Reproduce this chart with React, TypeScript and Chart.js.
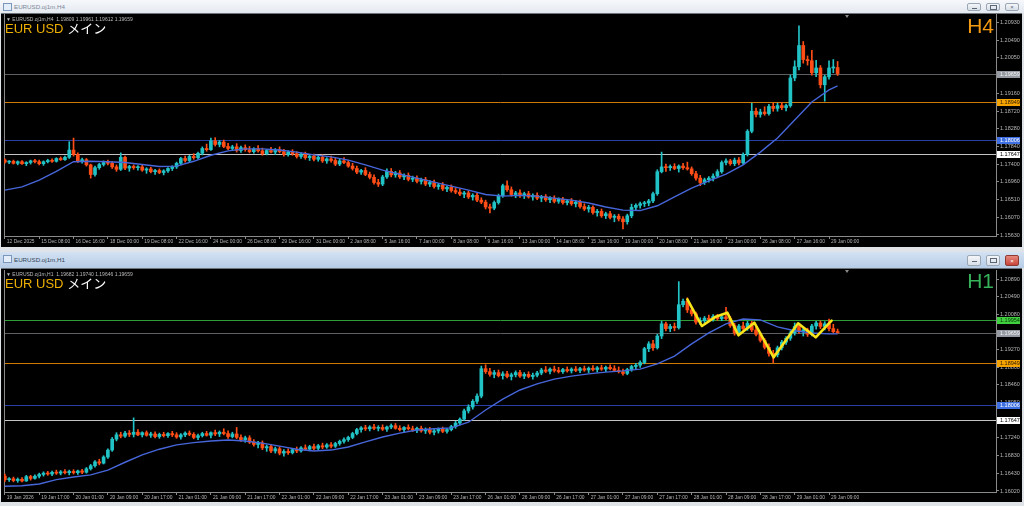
import React, { useEffect, useRef } from "react";
import { Chart, registerables } from "chart.js";

Chart.register(...registerables);

/* ======================= DATA ======================= */

// H4 chart (upper window)
const h4XLabels = [
  "12 Dec 2025", "15 Dec 08:00", "16 Dec 16:00", "18 Dec 00:00", "19 Dec 08:00",
  "22 Dec 16:00", "24 Dec 00:00", "26 Dec 08:00", "29 Dec 16:00", "31 Dec 00:00",
  "2 Jan 08:00", "5 Jan 16:00", "7 Jan 00:00", "8 Jan 08:00", "9 Jan 16:00",
  "13 Jan 00:00", "14 Jan 08:00", "15 Jan 16:00", "19 Jan 00:00", "20 Jan 08:00",
  "21 Jan 16:00", "23 Jan 00:00", "26 Jan 08:00", "27 Jan 16:00", "29 Jan 00:00",
];
const h4YTicks = [1.2093, 1.2049, 1.2005, 1.1961, 1.1916, 1.1872, 1.1828, 1.1784, 1.174, 1.1696, 1.1651, 1.1607, 1.1563];

const h4Open = [
  1.1750, 1.1745, 1.1747, 1.1742, 1.1746, 1.1741, 1.1744, 1.1748,
  1.1746, 1.1741, 1.1746, 1.1749, 1.1747, 1.1754, 1.1751, 1.1757,
  1.1775, 1.1764, 1.1748, 1.1751, 1.1738, 1.1714, 1.1731, 1.1739,
  1.1744, 1.1742, 1.1733, 1.1727, 1.1757, 1.1730, 1.1734, 1.1731,
  1.1733, 1.1725, 1.1728, 1.1721, 1.1724, 1.1719, 1.1723, 1.1729,
  1.1733, 1.1742, 1.1754, 1.1749, 1.1759, 1.1756, 1.1767, 1.1779,
  1.1776, 1.1798, 1.1789, 1.1795, 1.1784, 1.1779, 1.1783, 1.1774,
  1.1781, 1.1776, 1.1771, 1.1778, 1.1773, 1.1766, 1.1774, 1.1770,
  1.1776, 1.1771, 1.1764, 1.1770, 1.1766, 1.1759, 1.1765, 1.1756,
  1.1760, 1.1752, 1.1757, 1.1748, 1.1753, 1.1749, 1.1740, 1.1748,
  1.1744, 1.1735, 1.1729, 1.1720, 1.1724, 1.1714, 1.1707, 1.1694,
  1.1690, 1.1708, 1.1722, 1.1713, 1.1718, 1.1708, 1.1712, 1.1702,
  1.1705, 1.1697, 1.1701, 1.1690, 1.1694, 1.1684, 1.1688, 1.1678,
  1.1682, 1.1674, 1.1670, 1.1665, 1.1668, 1.1658, 1.1662, 1.1650,
  1.1645, 1.1633, 1.1630, 1.1644, 1.1661, 1.1686, 1.1676, 1.1664,
  1.1668, 1.1661, 1.1666, 1.1658, 1.1662, 1.1655, 1.1659, 1.1651,
  1.1655, 1.1647, 1.1652, 1.1644, 1.1648, 1.1641, 1.1645, 1.1634,
  1.1628, 1.1632, 1.1619, 1.1622, 1.1611, 1.1616, 1.1607, 1.1610,
  1.1603, 1.1596, 1.1611, 1.1632, 1.1637, 1.1641, 1.1643, 1.1648,
  1.1666, 1.1721, 1.1733, 1.1731, 1.1734, 1.1729, 1.1735, 1.1731,
  1.1728, 1.1716, 1.1705, 1.1694, 1.1701, 1.1705, 1.1710, 1.1721,
  1.1744, 1.1748, 1.1741, 1.1750, 1.1743, 1.1764, 1.1822, 1.1872,
  1.1864, 1.1870, 1.1866, 1.1884, 1.1879, 1.1886, 1.1881, 1.1886,
  1.1955, 1.1983, 1.2036, 1.2001, 1.1998, 1.1968, 1.1980, 1.1938,
  1.1958, 1.1980, 1.19809,
];
const h4High = [
  1.1753, 1.1749, 1.1750, 1.1748, 1.1749, 1.1746, 1.1750, 1.1752,
  1.1750, 1.1748, 1.1752, 1.1753, 1.1756, 1.1758, 1.1760, 1.1796,
  1.1805, 1.1768, 1.1755, 1.1754, 1.1740, 1.1735, 1.1742, 1.1748,
  1.1750, 1.1746, 1.1738, 1.1768, 1.1760, 1.1737, 1.1738, 1.1736,
  1.1737, 1.1731, 1.1732, 1.1727, 1.1728, 1.1726, 1.1731, 1.1736,
  1.1745, 1.1757, 1.1760, 1.1762, 1.1766, 1.1770, 1.1783, 1.1790,
  1.1805, 1.1806, 1.1799, 1.1800, 1.1792, 1.1787, 1.1791, 1.1785,
  1.1788, 1.1784, 1.1781, 1.1786, 1.1780, 1.1777, 1.1782, 1.1779,
  1.1783, 1.1777, 1.1773, 1.1776, 1.1771, 1.1768, 1.1770, 1.1763,
  1.1765, 1.1761, 1.1763, 1.1756, 1.1760, 1.1755, 1.1752, 1.1756,
  1.1749, 1.1742, 1.1735, 1.1727, 1.1731, 1.1720, 1.1713, 1.1702,
  1.1712, 1.1728, 1.1729, 1.1722, 1.1724, 1.1716, 1.1718, 1.1710,
  1.1711, 1.1705, 1.1707, 1.1699, 1.1700, 1.1692, 1.1694, 1.1686,
  1.1688, 1.1681, 1.1678, 1.1672, 1.1673, 1.1666, 1.1667, 1.1656,
  1.1650, 1.1640, 1.1648, 1.1665, 1.1690, 1.1698, 1.1683, 1.1672,
  1.1676, 1.1670, 1.1672, 1.1666, 1.1668, 1.1662, 1.1664, 1.1659,
  1.1661, 1.1656, 1.1657, 1.1652, 1.1654, 1.1649, 1.1650, 1.1641,
  1.1637, 1.1636, 1.1627, 1.1628, 1.1620, 1.1622, 1.1614, 1.1615,
  1.1609, 1.1615, 1.1640, 1.1641, 1.1645, 1.1647, 1.1652, 1.1670,
  1.1726, 1.1770, 1.1740, 1.1738, 1.1741, 1.1738, 1.1742, 1.1745,
  1.1733, 1.1722, 1.1712, 1.1705, 1.1709, 1.1716, 1.1726, 1.1748,
  1.1753, 1.1752, 1.1755, 1.1756, 1.1768, 1.1826, 1.1892, 1.1880,
  1.1877, 1.1883, 1.1889, 1.1892, 1.1892, 1.1893, 1.1890, 1.1962,
  1.1998, 1.2085, 1.2046, 1.2010, 1.2024, 1.1999, 1.1986, 1.1962,
  1.1998, 1.2001, 1.19961,
];
const h4Low = [
  1.1742, 1.1741, 1.1740, 1.1738, 1.1739, 1.1736, 1.1740, 1.1743,
  1.1738, 1.1737, 1.1743, 1.1744, 1.1745, 1.1749, 1.1749, 1.1754,
  1.1760, 1.1744, 1.1742, 1.1735, 1.1705, 1.1710, 1.1727, 1.1735,
  1.1738, 1.1729, 1.1722, 1.1724, 1.1726, 1.1722, 1.1727, 1.1725,
  1.1722, 1.1717, 1.1718, 1.1714, 1.1716, 1.1713, 1.1719, 1.1724,
  1.1729, 1.1738, 1.1745, 1.1746, 1.1752, 1.1753, 1.1763, 1.1772,
  1.1774, 1.1785, 1.1783, 1.1781, 1.1776, 1.1774, 1.1770, 1.1769,
  1.1772, 1.1768, 1.1767, 1.1770, 1.1762, 1.1763, 1.1768, 1.1764,
  1.1768, 1.1760, 1.1760, 1.1762, 1.1755, 1.1754, 1.1752, 1.1749,
  1.1748, 1.1747, 1.1744, 1.1742, 1.1745, 1.1736, 1.1736, 1.1741,
  1.1732, 1.1725, 1.1716, 1.1714, 1.1711, 1.1703, 1.1690, 1.1684,
  1.1686, 1.1704, 1.1708, 1.1707, 1.1704, 1.1701, 1.1698, 1.1696,
  1.1693, 1.1690, 1.1686, 1.1684, 1.1680, 1.1677, 1.1674, 1.1671,
  1.1670, 1.1666, 1.1661, 1.1656, 1.1654, 1.1650, 1.1646, 1.1641,
  1.1628, 1.1618, 1.1626, 1.1640, 1.1657, 1.1672, 1.1660, 1.1656,
  1.1657, 1.1654, 1.1655, 1.1650, 1.1651, 1.1646, 1.1647, 1.1644,
  1.1643, 1.1642, 1.1640, 1.1638, 1.1637, 1.1633, 1.1630, 1.1624,
  1.1620, 1.1615, 1.1610, 1.1607, 1.1604, 1.1603, 1.1596, 1.1598,
  1.1578, 1.1590, 1.1606, 1.1624, 1.1630, 1.1634, 1.1636, 1.1644,
  1.1662, 1.1718, 1.1722, 1.1724, 1.1726, 1.1720, 1.1727, 1.1725,
  1.1712, 1.1700, 1.1686, 1.1689, 1.1695, 1.1698, 1.1706, 1.1717,
  1.1738, 1.1737, 1.1736, 1.1738, 1.1739, 1.1760, 1.1818, 1.1858,
  1.1857, 1.1862, 1.1862, 1.1872, 1.1872, 1.1876, 1.1873, 1.1882,
  1.1948, 1.1975, 1.1992, 1.1987, 1.1962, 1.1958, 1.1930, 1.1897,
  1.1952, 1.1968, 1.19612,
];
const h4Close = [
  1.1745, 1.1747, 1.1742, 1.1746, 1.1741, 1.1744, 1.1748, 1.1746,
  1.1741, 1.1746, 1.1749, 1.1747, 1.1754, 1.1751, 1.1757, 1.1775,
  1.1764, 1.1748, 1.1751, 1.1738, 1.1714, 1.1731, 1.1739, 1.1744,
  1.1742, 1.1733, 1.1727, 1.1757, 1.1730, 1.1734, 1.1731, 1.1733,
  1.1725, 1.1728, 1.1721, 1.1724, 1.1719, 1.1723, 1.1729, 1.1733,
  1.1742, 1.1754, 1.1749, 1.1759, 1.1756, 1.1767, 1.1779, 1.1776,
  1.1798, 1.1789, 1.1795, 1.1784, 1.1779, 1.1783, 1.1774, 1.1781,
  1.1776, 1.1771, 1.1778, 1.1773, 1.1766, 1.1774, 1.1770, 1.1776,
  1.1771, 1.1764, 1.1770, 1.1766, 1.1759, 1.1765, 1.1756, 1.1760,
  1.1752, 1.1757, 1.1748, 1.1753, 1.1749, 1.1740, 1.1748, 1.1744,
  1.1735, 1.1729, 1.1720, 1.1724, 1.1714, 1.1707, 1.1694, 1.1690,
  1.1708, 1.1722, 1.1713, 1.1718, 1.1708, 1.1712, 1.1702, 1.1705,
  1.1697, 1.1701, 1.1690, 1.1694, 1.1684, 1.1688, 1.1678, 1.1682,
  1.1674, 1.1670, 1.1665, 1.1668, 1.1658, 1.1662, 1.1650, 1.1645,
  1.1633, 1.1630, 1.1644, 1.1661, 1.1686, 1.1676, 1.1664, 1.1668,
  1.1661, 1.1666, 1.1658, 1.1662, 1.1655, 1.1659, 1.1651, 1.1655,
  1.1647, 1.1652, 1.1644, 1.1648, 1.1641, 1.1645, 1.1634, 1.1628,
  1.1632, 1.1619, 1.1622, 1.1611, 1.1616, 1.1607, 1.1610, 1.1603,
  1.1596, 1.1611, 1.1632, 1.1637, 1.1641, 1.1643, 1.1648, 1.1666,
  1.1721, 1.1733, 1.1731, 1.1734, 1.1729, 1.1735, 1.1731, 1.1728,
  1.1716, 1.1705, 1.1694, 1.1701, 1.1705, 1.1710, 1.1721, 1.1744,
  1.1748, 1.1741, 1.1750, 1.1743, 1.1764, 1.1822, 1.1872, 1.1864,
  1.1870, 1.1866, 1.1884, 1.1879, 1.1886, 1.1881, 1.1886, 1.1955,
  1.1983, 1.2036, 1.2001, 1.1998, 1.1968, 1.1980, 1.1938, 1.1958,
  1.1980, 1.1981, 1.19659,
];
const h4MaBars = [
  0, 4, 8, 12, 16, 20, 24, 28, 32, 36, 40, 44, 48, 52, 56, 60, 64, 68, 72, 76, 80, 84, 88, 92, 96,
  100, 104, 108, 112, 116, 120, 124, 128, 132, 136, 140, 144, 148, 152, 156, 160, 164, 168, 172,
  176, 180, 184, 188, 192, 194,
];
const h4MaValues = [
  1.1675, 1.1683, 1.1700, 1.1722, 1.1746, 1.1747, 1.1746, 1.1744, 1.1739, 1.1734, 1.1735, 1.1747,
  1.1762, 1.1773, 1.1778, 1.1778, 1.1775, 1.1770, 1.1763, 1.1758, 1.1750, 1.1738, 1.1725, 1.1715,
  1.1705, 1.1695, 1.1685, 1.1675, 1.1664, 1.1660, 1.1662, 1.1660, 1.1655, 1.1650, 1.1643, 1.1633,
  1.1625, 1.1624, 1.1636, 1.1658, 1.1680, 1.1698, 1.1715, 1.1738, 1.1770, 1.1805, 1.1850, 1.1895,
  1.1925, 1.1935,
];
const h4Levels = [1.19659, 1.18949, 1.18006, 1.17647];

// H1 chart (lower window)
const h1XLabels = [
  "19 Jan 2026", "19 Jan 17:00", "20 Jan 01:00", "20 Jan 09:00", "20 Jan 17:00",
  "21 Jan 01:00", "21 Jan 09:00", "21 Jan 17:00", "22 Jan 01:00", "22 Jan 09:00",
  "22 Jan 17:00", "23 Jan 01:00", "23 Jan 09:00", "23 Jan 17:00", "26 Jan 01:00",
  "26 Jan 09:00", "26 Jan 17:00", "27 Jan 01:00", "27 Jan 09:00", "27 Jan 17:00",
  "28 Jan 01:00", "28 Jan 09:00", "28 Jan 17:00", "29 Jan 01:00", "29 Jan 09:00",
];
const h1YTicks = [1.2089, 1.2049, 1.2008, 1.1967, 1.1927, 1.1886, 1.1846, 1.1805, 1.1765, 1.1724, 1.1683, 1.1643, 1.1602];

const h1Open = [
  1.1636, 1.1628, 1.1630, 1.1626, 1.1629, 1.1625, 1.1635, 1.1631,
  1.1636, 1.1640, 1.1643, 1.1641, 1.1645, 1.1643, 1.1646, 1.1644,
  1.1647, 1.1644, 1.1648, 1.1645, 1.1653, 1.1660, 1.1669, 1.1666,
  1.1680, 1.1696, 1.1721, 1.1731, 1.1728, 1.1735, 1.1732, 1.1737,
  1.1731, 1.1736, 1.1730, 1.1733, 1.1727, 1.1732, 1.1729, 1.1734,
  1.1731, 1.1726, 1.1731, 1.1735, 1.1732, 1.1725, 1.1729, 1.1734,
  1.1730, 1.1736, 1.1733, 1.1737, 1.1734, 1.1727, 1.1733, 1.1725,
  1.1720, 1.1724, 1.1714, 1.1709, 1.1712, 1.1701, 1.1704, 1.1694,
  1.1699, 1.1689, 1.1693, 1.1690, 1.1697, 1.1694, 1.1701, 1.1698,
  1.1704, 1.1700, 1.1706, 1.1703, 1.1708, 1.1705, 1.1711, 1.1716,
  1.1720, 1.1725, 1.1734, 1.1743, 1.1747, 1.1745, 1.1749, 1.1746,
  1.1748, 1.1744, 1.1749, 1.1752, 1.1746, 1.1743, 1.1748, 1.1745,
  1.1742, 1.1746, 1.1740, 1.1743, 1.1737, 1.1740, 1.1744, 1.1739,
  1.1743, 1.1750, 1.1758, 1.1767, 1.1786, 1.1795, 1.1808, 1.1820,
  1.1883, 1.1876, 1.1870, 1.1874, 1.1867, 1.1871, 1.1865, 1.1869,
  1.1874, 1.1866, 1.1870, 1.1865, 1.1868, 1.1873, 1.1880, 1.1877,
  1.1882, 1.1879, 1.1876, 1.1881, 1.1878, 1.1882, 1.1879, 1.1883,
  1.1880, 1.1884, 1.1881, 1.1885, 1.1882, 1.1886, 1.1883, 1.1879,
  1.1876, 1.1872, 1.1881, 1.1888, 1.1891, 1.1897, 1.1929, 1.1940,
  1.1931, 1.1958, 1.1986, 1.1975, 1.1980, 1.1977, 1.2030, 1.2038,
  1.2018, 1.2009, 1.1990, 1.1993, 1.1999, 1.1996, 1.2003, 1.1998,
  1.2002, 1.1998, 1.1982, 1.1965, 1.1981, 1.1975, 1.1987, 1.1972,
  1.1962, 1.1948, 1.1932, 1.1918, 1.1915, 1.1931, 1.1944, 1.1953,
  1.1965, 1.1980, 1.1968, 1.1972, 1.1962, 1.1981, 1.1988, 1.1980,
  1.1986, 1.1975, 1.19682,
];
const h1High = [
  1.1641, 1.1633, 1.1634, 1.1632, 1.1633, 1.1638, 1.1638, 1.1639,
  1.1643, 1.1646, 1.1647, 1.1648, 1.1650, 1.1649, 1.1651, 1.1650,
  1.1651, 1.1650, 1.1652, 1.1656, 1.1663, 1.1672, 1.1675, 1.1683,
  1.1699, 1.1725, 1.1736, 1.1737, 1.1739, 1.1741, 1.1770, 1.1743,
  1.1738, 1.1740, 1.1737, 1.1738, 1.1735, 1.1737, 1.1736, 1.1739,
  1.1736, 1.1734, 1.1738, 1.1740, 1.1736, 1.1733, 1.1737, 1.1739,
  1.1738, 1.1742, 1.1740, 1.1745, 1.1740, 1.1737, 1.1748, 1.1731,
  1.1728, 1.1729, 1.1720, 1.1716, 1.1717, 1.1708, 1.1709, 1.1703,
  1.1704, 1.1697, 1.1699, 1.1700, 1.1703, 1.1704, 1.1708, 1.1707,
  1.1710, 1.1709, 1.1712, 1.1711, 1.1713, 1.1714, 1.1719, 1.1724,
  1.1728, 1.1737, 1.1746, 1.1750, 1.1753, 1.1752, 1.1755, 1.1752,
  1.1754, 1.1751, 1.1756, 1.1757, 1.1752, 1.1750, 1.1754, 1.1751,
  1.1749, 1.1751, 1.1747, 1.1748, 1.1744, 1.1747, 1.1749, 1.1746,
  1.1753, 1.1762, 1.1770, 1.1790, 1.1800, 1.1812, 1.1825, 1.1889,
  1.1892, 1.1884, 1.1879, 1.1880, 1.1876, 1.1877, 1.1873, 1.1878,
  1.1879, 1.1874, 1.1876, 1.1873, 1.1877, 1.1884, 1.1888, 1.1885,
  1.1889, 1.1886, 1.1884, 1.1887, 1.1885, 1.1888, 1.1886, 1.1889,
  1.1887, 1.1890, 1.1888, 1.1891, 1.1889, 1.1892, 1.1890, 1.1887,
  1.1882, 1.1884, 1.1891, 1.1895, 1.1901, 1.1932, 1.1945, 1.1948,
  1.1962, 1.1992, 1.1990, 1.1985, 1.1988, 1.2083, 1.2043, 1.2046,
  1.2024, 1.2013, 1.2000, 1.2003, 1.2006, 1.2007, 1.2008, 1.2006,
  1.2024, 1.2003, 1.1987, 1.1985, 1.1990, 1.1992, 1.1992, 1.1978,
  1.1966, 1.1952, 1.1940, 1.1925, 1.1935, 1.1948, 1.1957, 1.1970,
  1.1988, 1.1986, 1.1977, 1.1976, 1.1985, 1.1992, 1.1993, 1.1991,
  1.1997, 1.1985, 1.19740,
];
const h1Low = [
  1.1624, 1.1624, 1.1623, 1.1622, 1.1623, 1.1624, 1.1627, 1.1629,
  1.1632, 1.1636, 1.1638, 1.1637, 1.1640, 1.1639, 1.1641, 1.1639,
  1.1641, 1.1640, 1.1642, 1.1643, 1.1650, 1.1657, 1.1662, 1.1664,
  1.1677, 1.1693, 1.1717, 1.1724, 1.1725, 1.1727, 1.1726, 1.1729,
  1.1726, 1.1728, 1.1725, 1.1724, 1.1723, 1.1726, 1.1725, 1.1727,
  1.1723, 1.1721, 1.1727, 1.1729, 1.1722, 1.1720, 1.1726, 1.1728,
  1.1724, 1.1729, 1.1727, 1.1731, 1.1723, 1.1724, 1.1722, 1.1716,
  1.1714, 1.1711, 1.1705, 1.1701, 1.1697, 1.1693, 1.1690, 1.1689,
  1.1685, 1.1682, 1.1686, 1.1687, 1.1690, 1.1691, 1.1695, 1.1694,
  1.1696, 1.1697, 1.1699, 1.1700, 1.1701, 1.1702, 1.1707, 1.1712,
  1.1716, 1.1722, 1.1731, 1.1737, 1.1741, 1.1740, 1.1743, 1.1740,
  1.1741, 1.1739, 1.1745, 1.1744, 1.1740, 1.1738, 1.1742, 1.1739,
  1.1736, 1.1737, 1.1734, 1.1733, 1.1731, 1.1735, 1.1736, 1.1735,
  1.1740, 1.1746, 1.1754, 1.1764, 1.1781, 1.1790, 1.1803, 1.1816,
  1.1872, 1.1866, 1.1862, 1.1864, 1.1859, 1.1862, 1.1857, 1.1864,
  1.1863, 1.1860, 1.1862, 1.1859, 1.1864, 1.1869, 1.1874, 1.1871,
  1.1875, 1.1873, 1.1872, 1.1875, 1.1873, 1.1876, 1.1874, 1.1877,
  1.1874, 1.1878, 1.1875, 1.1879, 1.1876, 1.1880, 1.1877, 1.1873,
  1.1868, 1.1869, 1.1877, 1.1882, 1.1886, 1.1894, 1.1922, 1.1925,
  1.1928, 1.1952, 1.1970, 1.1968, 1.1970, 1.1974, 1.2025, 1.2012,
  1.2004, 1.1985, 1.1984, 1.1988, 1.1991, 1.1992, 1.1994, 1.1993,
  1.1995, 1.1978, 1.1960, 1.1961, 1.1970, 1.1971, 1.1968, 1.1958,
  1.1944, 1.1928, 1.1912, 1.1897, 1.1910, 1.1926, 1.1939, 1.1948,
  1.1960, 1.1964, 1.1958, 1.1957, 1.1958, 1.1974, 1.1975, 1.1972,
  1.1970, 1.1965, 1.19646,
];
const h1Close = [
  1.1628, 1.1630, 1.1626, 1.1629, 1.1625, 1.1635, 1.1631, 1.1636,
  1.1640, 1.1643, 1.1641, 1.1645, 1.1643, 1.1646, 1.1644, 1.1647,
  1.1644, 1.1648, 1.1645, 1.1653, 1.1660, 1.1669, 1.1666, 1.1680,
  1.1696, 1.1721, 1.1731, 1.1728, 1.1735, 1.1732, 1.1737, 1.1731,
  1.1736, 1.1730, 1.1733, 1.1727, 1.1732, 1.1729, 1.1734, 1.1731,
  1.1726, 1.1731, 1.1735, 1.1732, 1.1725, 1.1729, 1.1734, 1.1730,
  1.1736, 1.1733, 1.1737, 1.1734, 1.1727, 1.1733, 1.1725, 1.1720,
  1.1724, 1.1714, 1.1709, 1.1712, 1.1701, 1.1704, 1.1694, 1.1699,
  1.1689, 1.1693, 1.1690, 1.1697, 1.1694, 1.1701, 1.1698, 1.1704,
  1.1700, 1.1706, 1.1703, 1.1708, 1.1705, 1.1711, 1.1716, 1.1720,
  1.1725, 1.1734, 1.1743, 1.1747, 1.1745, 1.1749, 1.1746, 1.1748,
  1.1744, 1.1749, 1.1752, 1.1746, 1.1743, 1.1748, 1.1745, 1.1742,
  1.1746, 1.1740, 1.1743, 1.1737, 1.1740, 1.1744, 1.1739, 1.1743,
  1.1750, 1.1758, 1.1767, 1.1786, 1.1795, 1.1808, 1.1820, 1.1883,
  1.1876, 1.1870, 1.1874, 1.1867, 1.1871, 1.1865, 1.1869, 1.1874,
  1.1866, 1.1870, 1.1865, 1.1868, 1.1873, 1.1880, 1.1877, 1.1882,
  1.1879, 1.1876, 1.1881, 1.1878, 1.1882, 1.1879, 1.1883, 1.1880,
  1.1884, 1.1881, 1.1885, 1.1882, 1.1886, 1.1883, 1.1879, 1.1876,
  1.1872, 1.1881, 1.1888, 1.1891, 1.1897, 1.1929, 1.1940, 1.1931,
  1.1958, 1.1986, 1.1975, 1.1980, 1.1977, 1.2030, 1.2038, 1.2018,
  1.2009, 1.1990, 1.1993, 1.1999, 1.1996, 1.2003, 1.1998, 1.2002,
  1.1998, 1.1982, 1.1965, 1.1981, 1.1975, 1.1987, 1.1972, 1.1962,
  1.1948, 1.1932, 1.1918, 1.1915, 1.1931, 1.1944, 1.1953, 1.1965,
  1.1980, 1.1968, 1.1972, 1.1962, 1.1981, 1.1988, 1.1980, 1.1986,
  1.1975, 1.1968, 1.19659,
];
const h1MaBars = h4MaBars;
const h1MaValues = [
  1.1613, 1.1614, 1.1618, 1.1628, 1.1634, 1.1639, 1.1650, 1.1668, 1.1685, 1.1698, 1.1708, 1.1713,
  1.1717, 1.1719, 1.1717, 1.1712, 1.1705, 1.1698, 1.1694, 1.1696, 1.1703, 1.1715, 1.1726, 1.1735,
  1.1742, 1.1745, 1.1747, 1.1760, 1.1788, 1.1813, 1.1834, 1.1848, 1.1859, 1.1866, 1.1871, 1.1875,
  1.1878, 1.1882, 1.1894, 1.1912, 1.1940, 1.1965, 1.1986, 1.1997, 1.1995, 1.1979, 1.1970, 1.1965,
  1.1963, 1.1963,
];
const h1Levels = [1.19954, 1.19659, 1.18949, 1.18006, 1.17647];
const h1ZigzagBars = [159.0, 162.4, 165.6, 168.3, 170.9, 174.6, 179.1, 184.8, 188.9, 192.6];
const h1ZigzagPrices = [1.20424, 1.1981, 1.20024, 1.20116, 1.19597, 1.19886, 1.19091, 1.19872, 1.19551, 1.19932];

/* ======================= STYLE ======================= */

const BULL = "#22c3c6";
const BEAR = "#ff4d17";
const FRAME = "#8a8a8a";
const TICK_COLOR = "#b6b6b6";
const AXIS_FONT = "'Liberation Sans', Arial, sans-serif";

type LevelStyle = { line: string; box: string; text: string };
const GRAY: LevelStyle = { line: "#5d5f63", box: "#959aa3", text: "#f4f4f4" };
const ORANGE: LevelStyle = { line: "#cf7a06", box: "#f5a300", text: "#2a1800" };
const BLUE: LevelStyle = { line: "#2840a6", box: "#3e6fe2", text: "#ffffff" };
const WHITE: LevelStyle = { line: "#c4c4c4", box: "#ffffff", text: "#000000" };
const GREEN: LevelStyle = { line: "#2f9c37", box: "#3fcf3f", text: "#063306" };

const CANVAS_W = 1019;
const AXIS_W = 25;
const X_MIN = -0.2;
const X_MAX = 230.9;
const LABEL_STEP = 8;

interface PaneProps {
  top: number;
  height: number;
  padTop: number;
  axisH: number;
  yMin: number;
  yMax: number;
  yTicks: number[];
  xLabels: string[];
  open: number[];
  high: number[];
  low: number[];
  close: number[];
  maBars: number[];
  maValues: number[];
  levels: number[];
  levelStyles: LevelStyle[];
  zzBars?: number[];
  zzPrices?: number[];
}

function Pane(p: PaneProps) {
  const ref = useRef<HTMLCanvasElement | null>(null);

  useEffect(() => {
    if (!ref.current) return;
    const n = p.close.length;
    const wicks: any[] = [];
    const bodies: any[] = [];
    const colors: string[] = [];
    for (let i = 0; i < n; i++) {
      wicks.push({ x: i, y: [p.low[i], p.high[i]] });
      bodies.push({ x: i, y: [p.open[i], p.close[i]] });
      colors.push(p.close[i] >= p.open[i] ? BULL : BEAR);
    }
    const datasets: any[] = [];
    if (p.zzBars && p.zzPrices) {
      const zz = p.zzBars.map((b, i) => ({ x: b, y: p.zzPrices![i] }));
      datasets.push({
        type: "line", data: zz, borderColor: "#f6e31a", borderWidth: 2.6, pointRadius: 0,
        tension: 0, order: 0, borderJoinStyle: "round", borderCapStyle: "round",
      });
    }
    datasets.push({
      type: "line", data: p.maBars.map((b, i) => ({ x: b, y: p.maValues[i] })),
      borderColor: "#4666da", borderWidth: 1.4, pointRadius: 0, tension: 0, order: 1,
    });
    datasets.push({
      type: "bar", data: bodies, backgroundColor: colors, barThickness: 3, minBarLength: 1,
      grouped: false, order: 2, borderWidth: 0,
    });
    datasets.push({
      type: "bar", data: wicks, backgroundColor: colors, barThickness: 1,
      grouped: false, order: 3, borderWidth: 0,
    });

    const levelPlugin = {
      id: "levels",
      beforeDatasetsDraw(chart: any) {
        const { ctx, chartArea, scales } = chart;
        ctx.save();
        ctx.lineWidth = 1;
        ctx.strokeStyle = FRAME;
        ctx.beginPath();
        ctx.moveTo(chartArea.left + 0.5, chartArea.top);
        ctx.lineTo(chartArea.left + 0.5, chartArea.bottom);
        ctx.stroke();
        p.levels.forEach((v, i) => {
          const y = Math.round(scales.y.getPixelForValue(v)) + 0.5;
          ctx.strokeStyle = p.levelStyles[i].line;
          ctx.beginPath();
          ctx.moveTo(chartArea.left + 1, y);
          ctx.lineTo(chartArea.right, y);
          ctx.stroke();
        });
        ctx.restore();
      },
      afterDraw(chart: any) {
        const { ctx, chartArea, scales, width } = chart;
        ctx.save();
        ctx.font = `5.5px ${AXIS_FONT}`;
        ctx.textBaseline = "middle";
        ctx.textAlign = "left";
        p.levels.forEach((v, i) => {
          const y = Math.round(scales.y.getPixelForValue(v));
          const s = p.levelStyles[i];
          ctx.fillStyle = s.box;
          ctx.fillRect(chartArea.right + 1, y - 3, width - chartArea.right - 2, 7);
          ctx.fillStyle = s.text;
          ctx.fillText(v.toFixed(5), chartArea.right + 4, y + 0.5);
        });
        ctx.restore();
      },
    };

    const chart = new Chart(ref.current, {
      type: "bar",
      data: { datasets },
      options: {
        animation: false,
        responsive: false,
        maintainAspectRatio: false,
        events: [],
        layout: { padding: { left: 2, top: p.padTop, right: 0, bottom: 0 } },
        plugins: { legend: { display: false }, tooltip: { enabled: false } },
        scales: {
          x: {
            type: "linear",
            min: X_MIN,
            max: X_MAX,
            bounds: "data",
            offset: false,
            afterBuildTicks: (scale: any) => {
              scale.ticks = p.xLabels.map((_, i) => ({ value: i * LABEL_STEP }));
            },
            afterFit: (scale: any) => {
              scale.height = p.axisH;
              scale.paddingLeft = 0;
              scale.paddingRight = 0;
            },
            ticks: {
              autoSkip: false,
              maxRotation: 0,
              minRotation: 0,
              align: "start",
              labelOffset: 2,
              padding: 0,
              color: TICK_COLOR,
              font: { size: 4.9, family: AXIS_FONT },
              callback: (v: any) => p.xLabels[Math.round(Number(v) / LABEL_STEP)] ?? "",
            },
            grid: { drawOnChartArea: false, drawTicks: true, tickLength: 3, color: FRAME, offset: false },
            border: { display: true, color: FRAME },
          },
          y: {
            type: "linear",
            position: "right",
            min: p.yMin,
            max: p.yMax,
            bounds: "data",
            afterBuildTicks: (scale: any) => {
              scale.ticks = p.yTicks.map((v) => ({ value: v }));
            },
            afterFit: (scale: any) => {
              scale.width = AXIS_W;
              scale.paddingTop = 0;
              scale.paddingBottom = 0;
            },
            ticks: {
              autoSkip: false,
              padding: 1,
              color: TICK_COLOR,
              font: { size: 5.5, family: AXIS_FONT },
              callback: (v: any) => Number(v).toFixed(5),
            },
            grid: { drawOnChartArea: false, drawTicks: true, tickLength: 3, color: FRAME },
            border: { display: true, color: FRAME },
          },
        },
      } as any,
      plugins: [levelPlugin],
    } as any);
    return () => chart.destroy();
  }, []);

  return (
    <canvas
      ref={ref}
      width={CANVAS_W}
      height={p.height}
      style={{ position: "absolute", left: 2, top: p.top, width: CANVAS_W, height: p.height, display: "block" }}
    />
  );
}

function Btn({ left, top, h, kind, red }: { left: number; top: number; h: number; kind: string; red?: boolean }) {
  return (
    <div
      style={{
        position: "absolute", left, top, width: 14, height: h, boxSizing: "border-box",
        border: red ? "1px solid #8e3a32" : "1px solid #9aa6b4", borderRadius: 2,
        background: red ? "linear-gradient(#e6877c,#c7453a)" : "linear-gradient(#f4f6f9,#d9e0e8)",
        display: "flex", alignItems: "center", justifyContent: "center",
        fontSize: 6, lineHeight: "6px", color: red ? "#ffffff" : "#5b6675", fontFamily: AXIS_FONT,
      }}
    >
      {kind === "min" && <div style={{ width: 5, height: 1, background: red ? "#fff" : "#5b6675", marginTop: 2 }} />}
      {kind === "max" && <div style={{ width: 5, height: 3, border: "1px solid #5b6675" }} />}
      {kind === "close" && <span>×</span>}
    </div>
  );
}

function TitleBar({ top, height, title, active }: { top: number; height: number; title: string; active: boolean }) {
  const bh = height - 5;
  const by = Math.round((height - bh) / 2);
  return (
    <div
      style={{
        position: "absolute", left: 0, top, width: 1024, height,
        background: active ? "linear-gradient(#d3e2f3,#b6cce6)" : "linear-gradient(#f6f8fb,#e4e9f0)",
      }}
    >
      <div style={{ position: "absolute", left: 3, top: by, width: 7, height: 6, border: "1px solid #7b97bb", background: "#e4eefa" }} />
      <div
        style={{
          position: "absolute", left: 14, top: 0, height, lineHeight: `${height}px`,
          fontSize: 6.2, fontFamily: AXIS_FONT, color: active ? "#324459" : "#7b8797",
        }}
      >
        {title}
      </div>
      <Btn left={967} top={by} h={bh} kind="min" />
      <Btn left={986} top={by} h={bh} kind="max" />
      <Btn left={1005} top={by} h={bh} kind="close" red={active} />
    </div>
  );
}

function Overlay({ top, info, tf, tfColor }: { top: number; info: string; tf: string; tfColor: string }) {
  return (
    <>
      <div
        style={{
          position: "absolute", left: 6, top: top + 2, fontSize: 5, lineHeight: "6px",
          color: "#bcbcbc", fontFamily: AXIS_FONT, whiteSpace: "pre",
        }}
      >
        {info}
      </div>
      <div
        style={{
          position: "absolute", left: 5, top: top + 7, fontSize: 13, lineHeight: "13px",
          fontFamily: AXIS_FONT, whiteSpace: "pre",
        }}
      >
        <span style={{ color: "#eeb000" }}>EUR USD </span>
        <span style={{ color: "#ffffff", fontFamily: "'Noto Sans CJK JP', sans-serif" }}>メイン</span>
      </div>
      <div
        style={{
          position: "absolute", left: 940, width: 54, textAlign: "right", top: top + 1, fontSize: 21,
          lineHeight: "21px", color: tfColor, fontFamily: "'Liberation Sans Narrow', 'Liberation Sans', Arial, sans-serif",
        }}
      >
        {tf}
      </div>
      <div
        style={{
          position: "absolute", left: 845, top: top + 1, width: 0, height: 0,
          borderLeft: "2.5px solid transparent", borderRight: "2.5px solid transparent", borderTop: "3px solid #8a8a8a",
        }}
      />
    </>
  );
}

export default function App() {
  useEffect(() => {
    document.body.style.margin = "0";
  }, []);

  return (
    <div
      style={{
        position: "relative", width: 1024, height: 506, overflow: "hidden", background: "#dfe2e6",
        fontFamily: AXIS_FONT,
      }}
    >
      <style>{"body{margin:0}"}</style>
      <TitleBar top={0} height={13} title="EURUSD.oj1m,H4" active={false} />
      <div style={{ position: "absolute", left: 1, top: 13, width: 1021, height: 234, background: "#000", borderTop: "1px solid #6e747c", boxSizing: "border-box" }} />
      <Pane
        top={14} height={233} padTop={0} axisH={11}
        yMin={1.15605} yMax={1.211467} yTicks={h4YTicks} xLabels={h4XLabels}
        open={h4Open} high={h4High} low={h4Low} close={h4Close}
        maBars={h4MaBars} maValues={h4MaValues}
        levels={h4Levels} levelStyles={[GRAY, ORANGE, BLUE, WHITE]}
      />
      <Overlay top={14} info={"▼ EURUSD.oj1m,H4  1.19809 1.19961 1.19612 1.19659"} tf="H4" tfColor="#f39a12" />

      <TitleBar top={252} height={16} title="EURUSD.oj1m,H1" active />
      <div style={{ position: "absolute", left: 1, top: 268, width: 1021, height: 234, background: "#000", borderTop: "1px solid #6e747c", boxSizing: "border-box" }} />
      <Pane
        top={269} height={233} padTop={1} axisH={10}
        yMin={1.159968} yMax={1.210968} yTicks={h1YTicks} xLabels={h1XLabels}
        open={h1Open} high={h1High} low={h1Low} close={h1Close}
        maBars={h1MaBars} maValues={h1MaValues}
        levels={h1Levels} levelStyles={[GREEN, GRAY, ORANGE, BLUE, WHITE]}
        zzBars={h1ZigzagBars} zzPrices={h1ZigzagPrices}
      />
      <Overlay top={269} info={"▼ EURUSD.oj1m,H1  1.19682 1.19740 1.19646 1.19659"} tf="H1" tfColor="#35b25a" />
    </div>
  );
}
